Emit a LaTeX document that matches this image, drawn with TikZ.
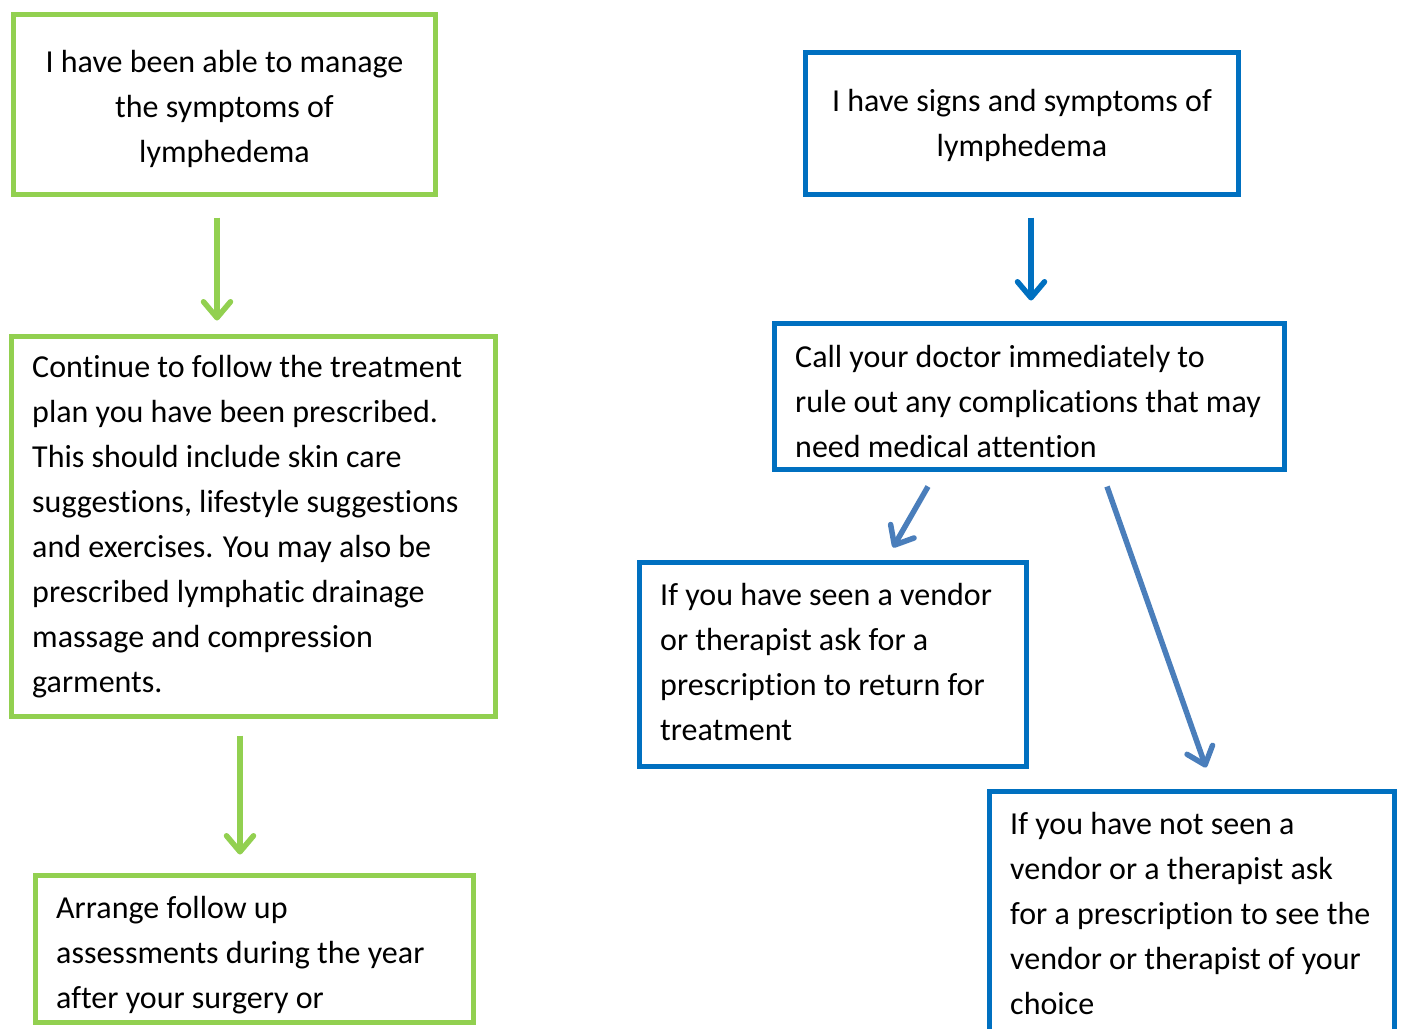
\documentclass[tikz,border=0pt]{standalone}
\usepackage{fontspec}
\setmainfont{Carlito}[Ligatures=NoCommon]
\usetikzlibrary{arrows.meta,calc}
\definecolor{lgreen}{HTML}{92D050}
\definecolor{mblue}{HTML}{0070C0}
\definecolor{sblue}{HTML}{4A7EBB}
\tikzset{
  gbox/.style={draw=lgreen, line width=5pt, rectangle, inner sep=0pt},
  bbox/.style={draw=mblue, line width=5pt, rectangle, inner sep=0pt},
  txt/.style={inner sep=0pt, font=\fontsize{32}{45}\selectfont, text=black},
  tip/.style={-{Straight Barb[length=16pt,width=27pt,round]}},
  garr/.style={draw=lgreen, line width=5.5pt, tip},
  barr/.style={draw=mblue, line width=5.5pt, tip},
  sarr/.style={draw=sblue, line width=5.5pt, tip},
}
\begin{document}
\begin{tikzpicture}[x=1pt,y=-1pt]
\useasboundingbox (0,0) rectangle (1404,1028);
% green column
\node[gbox, minimum width=422pt, minimum height=180pt] (g1) at (224.5,104.5) {};
\node[txt, align=center, anchor=base] (g1t) at (224.5,162) {I have been able to manage\\the symptoms of\\lymphedema};
\node[gbox, minimum width=484pt, minimum height=380pt] (g2) at (253.5,526.5) {};
\node[txt, align=left, anchor=base west] (g2t) at (32,692) {Continue to follow the treatment\\plan you have been prescribed.\\This should include skin care\\suggestions, lifestyle suggestions\\and exercises. You may also be\\prescribed lymphatic drainage\\massage and compression\\garments.};
\node[gbox, minimum width=438pt, minimum height=147pt] (g3) at (254.5,949) {};
\node[txt, align=left, anchor=base west] (g3t) at (56,1008) {Arrange follow up\\assessments during the year\\after your surgery or};
% blue column
\node[bbox, minimum width=433pt, minimum height=142pt] (b1) at (1022,123.5) {};
\node[txt, align=center, anchor=base] (b1t) at (1022,156) {I have signs and symptoms of\\lymphedema};
\node[bbox, minimum width=510pt, minimum height=146pt] (b2) at (1029.5,396.5) {};
\node[txt, align=left, anchor=base west] (b2t) at (795,457) {Call your doctor immediately to\\rule out any complications that may\\need medical attention};
\node[bbox, minimum width=387pt, minimum height=204pt] (b3) at (833,664.5) {};
\node[txt, align=left, anchor=base west] (b3t) at (660,740) {If you have seen a vendor\\or therapist ask for a\\prescription to return for\\treatment};
\node[bbox, minimum width=405pt, minimum height=248pt] (b4) at (1192,915.5) {};
\node[txt, align=left, anchor=base west] (b4t) at (1010,1014) {If you have not seen a\\vendor or a therapist ask\\for a prescription to see the\\vendor or therapist of your\\choice};
% connectors
\draw[garr] ($(g1.south)+(-7.5,20.5)$) -- ($(g2.north)+(-36.5,-13.5)$);
\draw[garr] ($(g2.south)+(-13.5,16.5)$) -- ($(g3.north)+(-14.5,-18.5)$);
\draw[barr] ($(b1.south)+(9,20.5)$) -- ($(b2.north)+(1.5,-20.5)$);
\draw[sarr] ($(b2.south)+(-101.5,14.5)$) -- ($(b3.north)+(60,-12.5)$);
\draw[sarr] ($(b2.south)+(77.5,14.5)$) -- ($(b4.north)+(14,-21.5)$);
\end{tikzpicture}
\end{document}
